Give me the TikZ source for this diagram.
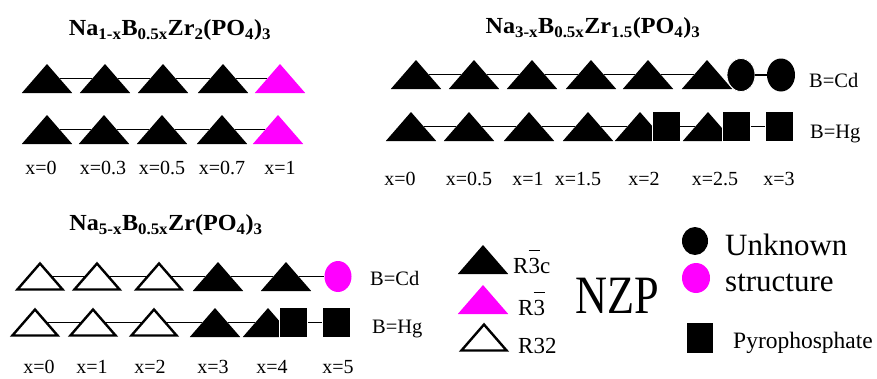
\documentclass[tikz,border=0pt]{standalone}
\usepackage{fontspec}
\setmainfont{Liberation Serif}
\newfontfamily\titlefont{Liberation Serif}[FakeStretch=1.05]
\usetikzlibrary{shapes.geometric}
\definecolor{nzpmagenta}{RGB}{255,0,255}

\begin{document}
\begin{tikzpicture}[x=1pt, y=-1pt,
    tri/.style={isosceles triangle, isosceles triangle apex angle=82, shape border rotate=90, fill=black, inner sep=0pt, outer sep=0pt, minimum size=29pt, anchor=apex},
    magtri/.style={tri, fill=nzpmagenta},
    opentri/.style={tri, fill=white, draw=black, line width=2.4pt, minimum size=26pt},
    blob/.style={ellipse, fill=black, inner sep=0pt, minimum width=28pt, minimum height=33pt},
    magblob/.style={blob, fill=nzpmagenta},
    pyro/.style={rectangle, fill=black, draw=white, line width=0.8pt, inner sep=0pt, minimum width=28pt, minimum height=30pt},
    link/.style={line width=1.8pt},
    xlab/.style={inner sep=0pt, font=\fontsize{20}{22}\selectfont},
    blab/.style={inner sep=0pt, anchor=base west, font=\fontsize{20.5}{23}\selectfont},
    ttl/.style={inner sep=0pt, font=\titlefont\bfseries\fontsize{23}{26}\selectfont}]
    \useasboundingbox (0,0) rectangle (877,378);

    % Na(1-x) B(0.5x) Zr2 (PO4)3
    \node[ttl] (ta) at (170,30) {Na\textsubscript{1-x}B\textsubscript{0.5x}Zr\textsubscript{2}(PO\textsubscript{4})\textsubscript{3}};
    \node[tri] (ac1) at (47,64) {};
    \node[tri] (ac2) at (105,64) {};
    \node[tri] (ac3) at (163,64) {};
    \node[tri] (ac4) at (223,64) {};
    \node[magtri] (ac5) at (280,64) {};
    \node[tri] (ah1) at (47,115) {};
    \node[tri] (ah2) at (104,115) {};
    \node[tri] (ah3) at (162,115) {};
    \node[tri] (ah4) at (222,115) {};
    \node[magtri] (ah5) at (278,115) {};
    \draw[link] (ac1.right side) -- (ac2.left side) (ac2.right side) -- (ac3.left side)
                (ac3.right side) -- (ac4.left side) (ac4.right side) -- (ac5.left side);
    \draw[link] (ah1.right side) -- (ah2.left side) (ah2.right side) -- (ah3.left side)
                (ah3.right side) -- (ah4.left side) (ah4.right side) -- (ah5.left side);
    \node[xlab] (ax1) at (41,168) {x=0};
    \node[xlab] (ax2) at (103,168) {x=0.3};
    \node[xlab] (ax3) at (162,168) {x=0.5};
    \node[xlab] (ax4) at (222,168) {x=0.7};
    \node[xlab] (ax5) at (280,168) {x=1};

    % Na(3-x) B(0.5x) Zr1.5 (PO4)3
    \node[ttl] (tb) at (593,28) {Na\textsubscript{3-x}B\textsubscript{0.5x}Zr\textsubscript{1.5}(PO\textsubscript{4})\textsubscript{3}};
    \node[tri] (bc1) at (416,60) {};
    \node[tri] (bc2) at (474,60) {};
    \node[tri] (bc3) at (532,60) {};
    \node[tri] (bc4) at (591,60) {};
    \node[tri] (bc5) at (648,60) {};
    \node[tri] (bc6) at (707,60) {};
    \node[blob, draw=white, line width=0.8pt] (bc7) at (741,75) {};
    \node[blob] (bc8) at (781,75) {};
    \draw[link] (bc1.right side) -- (bc2.left side) (bc2.right side) -- (bc3.left side)
                (bc3.right side) -- (bc4.left side) (bc4.right side) -- (bc5.left side)
                (bc5.right side) -- (bc6.left side) (bc7) -- (bc8);
    \node[blab] (bcd) at (809,87) {B=Cd};
    \node[tri] (bh1) at (411,112) {};
    \node[tri] (bh2) at (469,112) {};
    \node[tri] (bh3) at (529,112) {};
    \node[tri] (bh4) at (588,112) {};
    \node[tri] (bh5) at (640,112) {};
    \node[pyro] (bh6) at (666,126.5) {};
    \node[tri] (bh7) at (708,112) {};
    \node[pyro] (bh8) at (736.5,126.5) {};
    \node[pyro] (bh9) at (779,126.5) {};
    \draw[link] (bh1.right side) -- (bh2.left side) (bh2.right side) -- (bh3.left side)
                (bh3.right side) -- (bh4.left side) (bh4.right side) -- (bh5.left side)
                (bh6) -- (bh7.left side) (bh8) -- (bh9);
    \node[blab] (bhg) at (810,138) {B=Hg};
    \node[xlab] (bx1) at (400,179) {x=0};
    \node[xlab] (bx2) at (469,179) {x=0.5};
    \node[xlab] (bx3) at (528,179) {x=1};
    \node[xlab] (bx4) at (578,179) {x=1.5};
    \node[xlab] (bx5) at (644,179) {x=2};
    \node[xlab] (bx6) at (715,179) {x=2.5};
    \node[xlab] (bx7) at (779,179) {x=3};

    % Na(5-x) B(0.5x) Zr (PO4)3
    \node[ttl] (tc) at (166,225) {Na\textsubscript{5-x}B\textsubscript{0.5x}Zr(PO\textsubscript{4})\textsubscript{3}};
    \node[opentri] (cc1) at (40,263.5) {};
    \node[opentri] (cc2) at (97,263.5) {};
    \node[opentri] (cc3) at (159,263.5) {};
    \node[tri] (cc4) at (218,262) {};
    \node[tri] (cc5) at (286,262) {};
    \node[magblob, minimum width=27pt, minimum height=31pt] (cc6) at (338,276.5) {};
    \draw[link] (cc1.right side) -- (cc2.left side) (cc2.right side) -- (cc3.left side)
                (cc3.right side) -- (cc3.right side -| cc4.left side) (cc4.right side) -- (cc5.left side)
                (cc5.right side) -- (cc6);
    \node[blab] (ccd) at (370,285) {B=Cd};
    \node[opentri] (ch1) at (35,309.5) {};
    \node[opentri] (ch2) at (93,309.5) {};
    \node[opentri] (ch3) at (154,309.5) {};
    \node[tri] (ch4) at (215,308) {};
    \node[tri] (ch5) at (268,308) {};
    \node[pyro] (ch6) at (293.5,322.5) {};
    \node[pyro] (ch7) at (336.5,322.5) {};
    \draw[link] (ch1.right side) -- (ch2.left side) (ch2.right side) -- (ch3.left side)
                (ch3.right side) -- (ch3.right side -| ch4.left side) (ch4.right side) -- (ch5.left side)
                (ch6) -- (ch7);
    \node[blab] (chg) at (372,333) {B=Hg};
    \node[xlab] (cx1) at (39,367) {x=0};
    \node[xlab] (cx2) at (92,367) {x=1};
    \node[xlab] (cx3) at (150,367) {x=2};
    \node[xlab] (cx4) at (213,367) {x=3};
    \node[xlab] (cx5) at (272,367) {x=4};
    \node[xlab] (cx6) at (338,367) {x=5};

    % legend
    \node[tri] (kr3c) at (483,245) {};
    \node[blab, font=\fontsize{23}{26}\selectfont] (lr3c) at (513,273) {R$\overline{\mbox{3\rule{0pt}{0.95em}}}$c};
    \node[magtri] (kr3) at (483,285) {};
    \node[blab, font=\fontsize{23}{26}\selectfont] (lr3) at (518,315) {R$\overline{\mbox{3\rule{0pt}{0.95em}}}$};
    \node[opentri] (kr32) at (484,324.5) {};
    \node[blab, font=\fontsize{23}{26}\selectfont] (lr32) at (518,353) {R32};
    \node[blab, font=\fontsize{54}{58}\selectfont] (nzp) at (575,313) {\scalebox{0.82}[1]{NZP}};
    \node[blob, minimum width=26pt, minimum height=28pt] (kunk) at (695,241) {};
    \node[magblob, minimum width=28pt, minimum height=30pt] (kstr) at (696,278) {};
    \node[blab, font=\fontsize{31}{34}\selectfont] (lunk) at (725,255) {Unknown};
    \node[blab, font=\fontsize{31}{34}\selectfont] (lstr) at (725,291) {structure};
    \node[pyro, draw=none, minimum width=26pt] (kpyro) at (700,338) {};
    \node[blab, font=\fontsize{23.5}{26}\selectfont] (lpyro) at (733,348) {Pyrophosphate};
\end{tikzpicture}
\end{document}
